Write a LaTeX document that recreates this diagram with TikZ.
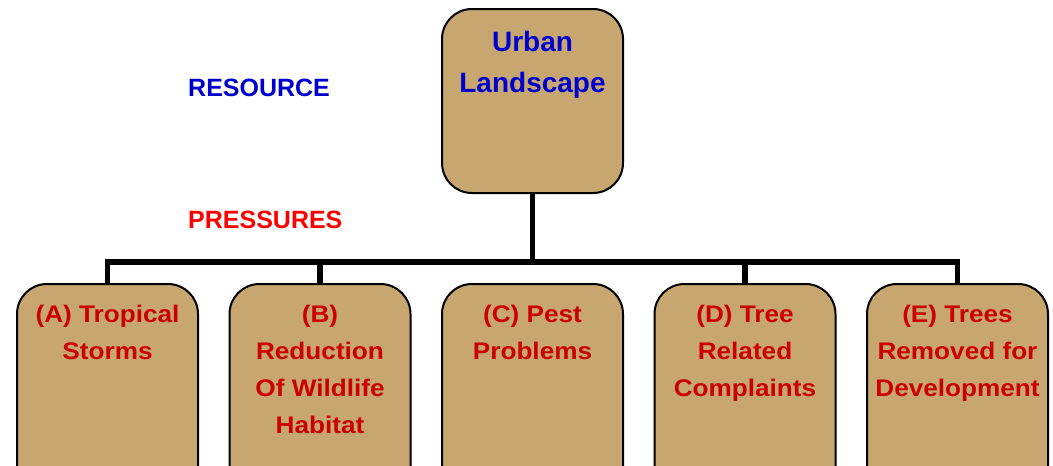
\documentclass[tikz,border=0pt]{standalone}
\usepackage{fontspec}
\setmainfont{Liberation Sans}
\newfontfamily\widefont[FakeStretch=1.09]{Liberation Sans}
\definecolor{tan}{RGB}{200,166,112}
\definecolor{boxred}{RGB}{204,0,0}
\definecolor{boxblue}{RGB}{0,0,205}
\definecolor{labred}{RGB}{255,0,0}
\tikzset{
  pbox/.style={draw=black, line width=2pt, fill=tan, rounded corners=30pt,
    minimum width=181pt, minimum height=220pt, anchor=north, inner sep=0pt},
  rbox/.style={pbox, minimum height=184pt},
  ptext/.style={anchor=north, align=center, inner sep=0pt, text=boxred,
    font=\widefont\fontsize{24}{37}\selectfont\bfseries},
  rtext/.style={anchor=north, align=center, inner sep=0pt, text=boxblue,
    font=\fontsize{28}{41}\selectfont\bfseries},
  lab/.style={anchor=base west, inner sep=0pt, font=\fontsize{25}{30}\selectfont\bfseries},
  conn/.style={line width=5.5pt}
}
\begin{document}
\begin{tikzpicture}[x=1pt,y=-1pt]
\clip (0,0) rectangle (1053,466);
\fill[white] (0,0) rectangle (1053,466);
% top box
\node[rbox] (top) at (532.5,8) {};
\node[rtext] (toptext) at (532.5,31) {Urban\\Landscape};
% labels
\node[lab, text=boxblue] (res) at (188,96) {RESOURCE};
\node[lab, text=labred] (pres) at (188,228) {PRESSURES};
% bottom boxes
\node[pbox] (a) at (107.5,283) {};
\node[pbox] (b) at (320,283) {};
\node[pbox] (c) at (532.5,283) {};
\node[pbox] (d) at (745,283) {};
\node[pbox] (e) at (957.5,283) {};
\node[ptext] (ta) at (107.5,305) {(A) Tropical\\Storms};
\node[ptext] (tb) at (320,305) {(B)\\Reduction\\Of Wildlife\\Habitat};
\node[ptext] (tc) at (532.5,305) {(C) Pest\\Problems};
\node[ptext] (td) at (745,305) {(D) Tree\\Related\\Complaints};
\node[ptext] (te) at (957.5,305) {(E) Trees\\Removed for\\Development};
% connectors
\coordinate (bar) at (532.5,262);
\draw[conn] (top.south) -- (bar);
\draw[conn] (a.north) -- (a.north |- bar) -- (e.north |- bar) -- (e.north);
\draw[conn] (b.north) -- (b.north |- bar);
\draw[conn] (d.north) -- (d.north |- bar);
\end{tikzpicture}
\end{document}
